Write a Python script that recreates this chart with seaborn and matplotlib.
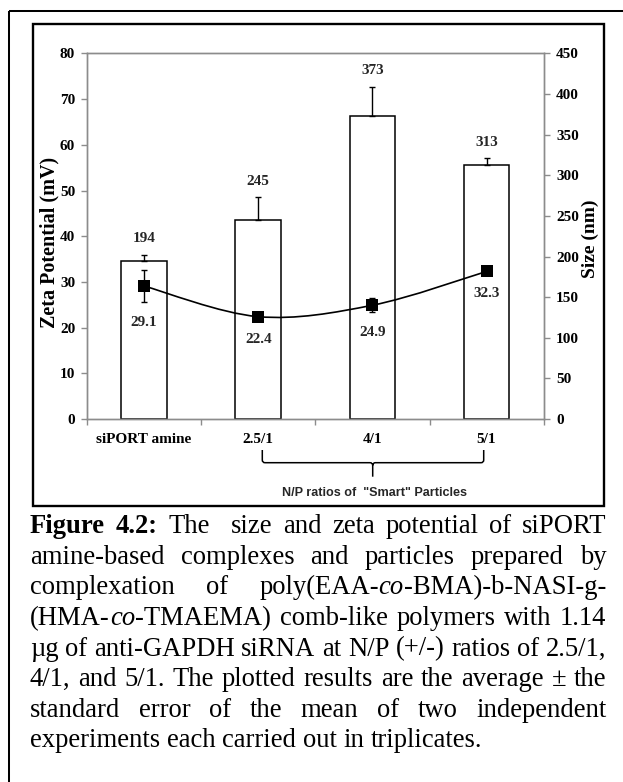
import re
import numpy as np
import pandas as pd
import matplotlib
matplotlib.use("Agg")
import matplotlib.pyplot as plt
import seaborn as sns
from matplotlib.path import Path
from matplotlib.patches import PathPatch, Rectangle
from matplotlib.transforms import Affine2D
from matplotlib import font_manager

# ---------------- data ----------------
categories = ["siPORT amine", "2.5/1", "4/1", "5/1"]
size_nm = [194, 245, 373, 313]
size_err = [8, 28, 36, 8]
zeta_mv = [29.1, 22.4, 24.9, 32.3]
zeta_err = [3.5, 0.5, 1.5, 0.5]
zeta_ticks = list(range(0, 81, 10))
size_ticks = list(range(0, 451, 50))
bracket_text = 'N/P ratios of  "Smart" Particles'
caption_lines = [
    "#Figure 4.2:# The  size and zeta potential of siPORT",
    "amine-based complexes and particles prepared by",
    "complexation of poly(EAA-*co*-BMA)-b-NASI-g-",
    "(HMA-*co*-TMAEMA) comb-like polymers with 1.14",
    "\u00b5g of anti-GAPDH siRNA at N/P (+/-) ratios of 2.5/1,",
    "4/1, and 5/1. The plotted results are the average \u00b1 the",
    "standard error of the mean of two independent",
    "experiments each carried out in triplicates.",
]

# ---------------- style ----------------
sns.set_theme(style="white")
SERIF = ["Liberation Serif", "DejaVu Serif"]
plt.rcParams["font.family"] = SERIF


def has_font(name):
    try:
        font_manager.findfont(font_manager.FontProperties(family=name),
                              fallback_to_default=False)
        return True
    except Exception:
        return False


NARROW = "Liberation Sans Narrow" if has_font("Liberation Sans Narrow") else "Liberation Sans"

W, H = 623, 782
fig = plt.figure(figsize=(W / 100, H / 100), dpi=100)
fig.patch.set_facecolor("white")
PX = Affine2D().scale(1 / W, -1 / H).translate(0, 1) + fig.transFigure
renderer = fig.canvas.get_renderer()

L, R, T, B = 87, 543.7, 53.5, 419
ax = fig.add_axes([L / W, 1 - B / H, (R - L) / W, (B - T) / H])
ax2 = ax.twinx()
ax.set_zorder(3)
ax.patch.set_visible(False)

GRAY = "#8c8c8c"
TFS = 11

# ---------------- bars (size, right axis) ----------------
df = pd.DataFrame({"cat": categories, "size": size_nm})
sns.barplot(data=df, x="cat", y="size", ax=ax2, color="white", saturation=1,
            edgecolor="black", linewidth=1.1, width=0.4, errorbar=None)
xpos = np.arange(len(categories))
ax2.errorbar(xpos, size_nm, yerr=[np.zeros(len(size_err)), size_err], fmt="none",
             ecolor="black", elinewidth=1, capsize=2.5, capthick=1, zorder=3)
for i, (v, e) in enumerate(zip(size_nm, size_err)):
    ax2.annotate(str(v), xy=(i, v + e), xytext=(0, 11.5), textcoords="offset points",
                 ha="center", va="center", fontsize=TFS, fontweight="bold")

# ---------------- zeta (left axis) ----------------
pts = np.column_stack([xpos, zeta_mv]).astype(float)
P = np.vstack([pts[0], pts, pts[-1]])
verts = [tuple(pts[0])]
codes = [Path.MOVETO]
for i in range(len(pts) - 1):
    p0, p1, p2, p3 = P[i], P[i + 1], P[i + 2], P[i + 3]
    c1 = p1 + (p2 - p0) / 6.0
    c2 = p2 - (p3 - p1) / 6.0
    verts += [tuple(c1), tuple(c2), tuple(p2)]
    codes += [Path.CURVE4] * 3
ax.add_patch(PathPatch(Path(verts, codes), transform=ax.transData, fill=False,
                       edgecolor="black", lw=1.2, zorder=4))
ax.errorbar(xpos, zeta_mv, yerr=zeta_err, fmt="none", ecolor="black",
            elinewidth=1, capsize=2.5, capthick=1, zorder=5)
sns.scatterplot(x=xpos, y=zeta_mv, ax=ax, marker="s", s=64, color="black",
                edgecolor="black", linewidth=0, zorder=6, legend=False)
for i, (v, e) in enumerate(zip(zeta_mv, zeta_err)):
    ax.annotate(f"{v:.1f}", xy=(i, v - e), xytext=(0, -14.5), textcoords="offset points",
                ha="center", va="center", fontsize=TFS, fontweight="bold")

# ---------------- axes formatting ----------------
ax.set_xlim(-0.5, len(categories) - 0.5)
ax.set_ylim(0, 80)
ax.set_yticks(zeta_ticks)
ax2.set_ylim(0, 450)
ax2.set_yticks(size_ticks)
ax.set_xticks(xpos)
ax.set_xticklabels(categories)
ax.set_xticks(np.arange(-0.5, len(categories), 1.0), minor=True)

ax.tick_params(axis="x", which="major", bottom=True, length=0, pad=10,
               labelsize=TFS, labelcolor="black")
ax.tick_params(axis="x", which="minor", bottom=True, length=4, width=1,
               direction="out", color=GRAY)
ax.tick_params(axis="y", which="major", left=True, length=4, width=1,
               direction="out", color=GRAY, pad=4.5, labelsize=TFS, labelcolor="black")
ax2.tick_params(axis="y", which="major", right=True, length=4, width=1,
                direction="out", color=GRAY, pad=5, labelsize=TFS, labelcolor="black")
for lbl in ax.get_xticklabels() + ax.get_yticklabels() + ax2.get_yticklabels():
    lbl.set_fontweight("bold")

ax.set_xlabel("")
ax2.set_xlabel("")
ax.set_ylabel("Zeta Potential (mV)", fontsize=14.5, fontweight="bold", color="black")
ax.yaxis.set_label_coords((49.7 - L) / (R - L), (B - 242.5) / (B - T))
ax.yaxis.label.set_va("center")
ax2.set_ylabel("Size (nm)", fontsize=14, fontweight="bold", color="black")
ax2.yaxis.set_label_coords((590 - L) / (R - L), (B - 239) / (B - T))
ax2.yaxis.label.set_va("center")
for a in (ax, ax2):
    a.grid(False)
    for s in a.spines.values():
        s.set_visible(True)
        s.set_color(GRAY)
        s.set_linewidth(1)

# ---------------- frames ----------------
fig.add_artist(Rectangle((9.3, 10.7), 700, 900, transform=PX, fill=False,
                         edgecolor="black", lw=1.45, clip_on=False))
fig.add_artist(Rectangle((33.3, 24.3), 603.7 - 33.3, 506 - 24.3, transform=PX,
                         fill=False, edgecolor="black", lw=1.7, clip_on=False))

# ---------------- bracket ----------------
yt, yh, yb = 450, 462.7, 476.7
xl, xr, xc = 262.3, 483.7, 372.7
r = 2.7
bv = [(xl, yt), (xl, yh - r), (xl, yh), (xl + r, yh), (xc - r, yh), (xc, yh), (xc, yh + r), (xc, yb),
      (xr, yt), (xr, yh - r), (xr, yh), (xr - r, yh), (xc + r, yh), (xc, yh), (xc, yh + r)]
bc = [Path.MOVETO, Path.LINETO, Path.CURVE3, Path.CURVE3, Path.LINETO, Path.CURVE3, Path.CURVE3, Path.LINETO,
      Path.MOVETO, Path.LINETO, Path.CURVE3, Path.CURVE3, Path.LINETO, Path.CURVE3, Path.CURVE3]
fig.add_artist(PathPatch(Path(bv, bc), transform=PX, fill=False, edgecolor="black",
                         lw=1.1, clip_on=False))
bt = fig.text(374.5, 493, bracket_text, transform=PX, ha="center", va="center",
              fontsize=10, fontweight="bold", family=[NARROW, "DejaVu Sans"])
bw = bt.get_window_extent(renderer).width
if bw > 184:
    bt.set_fontsize(10 * 184 / bw)

# ---------------- caption (justified) ----------------
def parse(lines):
    bold = False
    ital = False
    out = []
    for line in lines:
        items = []
        for part in re.split(r"( +)", line):
            if part == "":
                continue
            if part.startswith(" "):
                items.append(("gap", len(part)))
                continue
            segs, buf = [], ""
            for ch in part:
                if ch in "#*":
                    if buf:
                        segs.append((buf, bold, ital))
                        buf = ""
                    if ch == "#":
                        bold = not bold
                    else:
                        ital = not ital
                else:
                    buf += ch
            if buf:
                segs.append((buf, bold, ital))
            items.append(("word", segs))
        out.append(items)
    return out


def mk(text, fs, b, it, x=0, y=0):
    return fig.text(x, y, text, transform=PX, fontsize=fs, ha="left", va="baseline",
                    fontweight="bold" if b else "normal",
                    fontstyle="italic" if it else "normal", family=SERIF, color="black")


def width(text, fs, b=False, it=False):
    t = mk(text, fs, b, it)
    w = t.get_window_extent(renderer).width
    t.remove()
    return w


parsed = parse(caption_lines)
CAP_L, CAP_R = 30, 606.3
BASE0, LSP = 533.3, 30.57


def line_words_width(items, fs):
    return sum(width(s[0], fs, s[1], s[2]) for kind, v in items if kind == "word" for s in v)


# font size from the last (unjustified) line
fs0 = 20.0
last = parsed[-1]
sp0 = width("x x", fs0) - width("xx", fs0)
nat = line_words_width(last, fs0) + sp0 * sum(v for k, v in last if k == "gap")
fs = fs0 * (482.3 - CAP_L) / nat

for li, items in enumerate(parsed):
    y = BASE0 + li * LSP
    ww = line_words_width(items, fs)
    gw = sum(v for k, v in items if k == "gap")
    if li == len(parsed) - 1:
        unit = width("x x", fs) - width("xx", fs)
    else:
        unit = (CAP_R - CAP_L - ww) / gw
    x = CAP_L
    for kind, v in items:
        if kind == "gap":
            x += unit * v
        else:
            for s in v:
                t = mk(s[0], fs, s[1], s[2], x, y)
                x += t.get_window_extent(renderer).width

fig.savefig("out.png", dpi=100, facecolor="white")
